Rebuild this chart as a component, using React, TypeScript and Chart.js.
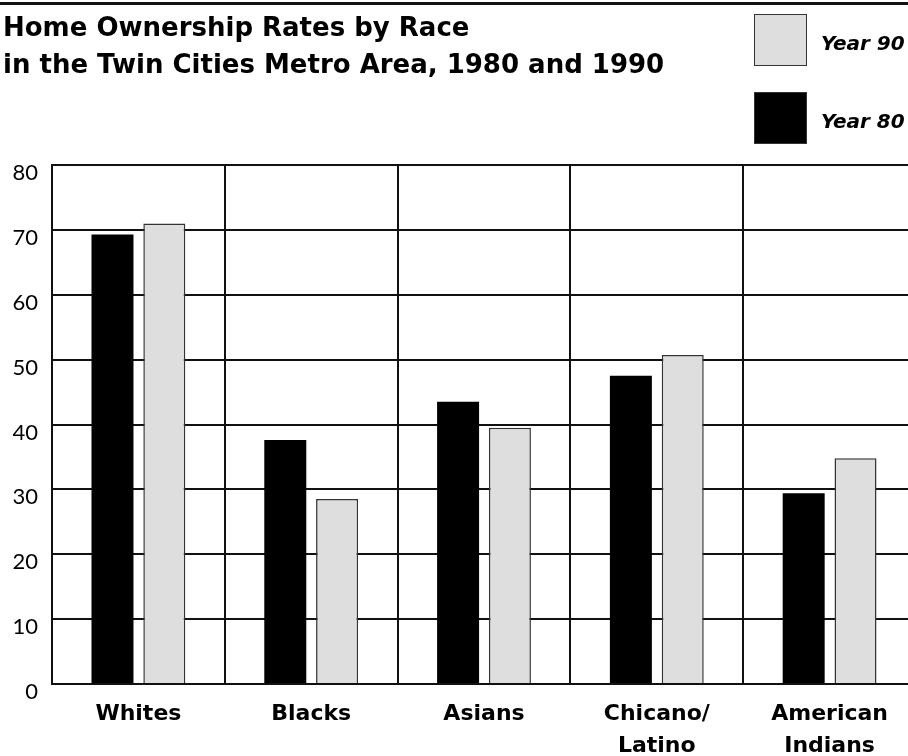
import React, { useEffect, useRef } from "react";
import { Chart, registerables } from "chart.js";

Chart.register(...registerables);

const categories: string[][] = [["Whites"], ["Blacks"], ["Asians"], ["Chicano/", "Latino"], ["American", "Indians"]];
const year80: number[] = [69.3, 37.6, 43.5, 47.5, 29.4];
const year90: number[] = [71.0, 28.5, 39.5, 50.7, 34.8];
const seriesNames: string[] = ["Year 80", "Year 90"];
const titleLines: string[] = ["Home Ownership Rates by Race", "in the Twin Cities Metro Area, 1980 and 1990"];
const yMin = 0;
const yMax = 80;
const yStep = 10;

const FONT = "Lato, 'DejaVu Sans', sans-serif";
const BOLD_FONT = "'DejaVu Sans', Lato, sans-serif";
const BLACK = "#000000";
const GREY = "#dedede";

const decor = {
  id: "decor",
  afterDraw(chart: any) {
    const ctx = chart.ctx as CanvasRenderingContext2D;
    ctx.save();
    ctx.fillStyle = "#111";
    ctx.fillRect(0, 2, chart.width, 3);
    ctx.fillStyle = "#000";
    ctx.textAlign = "left";
    ctx.textBaseline = "alphabetic";
    ctx.font = `bold 26px ${BOLD_FONT}`;
    ctx.fillText(titleLines[0], 3, 36);
    ctx.fillText(titleLines[1], 3, 73);
    // legend: reversed order (Year 90 on top)
    const ds = chart.data.datasets;
    const items = [ds[1], ds[0]];
    const tops = [14, 92];
    items.forEach((d: any, i: number) => {
      const y = tops[i];
      ctx.fillStyle = d.backgroundColor;
      ctx.fillRect(754, y, 53, 52);
      ctx.strokeStyle = "#333";
      ctx.lineWidth = 1;
      ctx.strokeRect(754.5, y + 0.5, 52, 51);
      ctx.fillStyle = "#000";
      ctx.font = `italic bold 20px ${BOLD_FONT}`;
      ctx.textBaseline = "alphabetic";
      ctx.fillText(d.label, 821, y + 36);
    });
    ctx.restore();
  },
};

export default function App() {
  const ref = useRef<HTMLCanvasElement | null>(null);
  useEffect(() => {
    if (!ref.current) return;
    const chart = new Chart(ref.current, {
      type: "bar",
      data: {
        labels: categories,
        datasets: [
          {
            label: seriesNames[0],
            data: year80,
            backgroundColor: BLACK,
            borderColor: BLACK,
            borderWidth: 0,
            categoryPercentage: 0.6,
            barPercentage: 0.81,
          },
          {
            label: seriesNames[1],
            data: year90,
            backgroundColor: GREY,
            borderColor: "#333",
            borderWidth: 1.5,
            categoryPercentage: 0.6,
            barPercentage: 0.81,
          },
        ],
      },
      options: {
        responsive: false,
        animation: false,
        layout: { padding: { top: 165, left: 0, right: 0, bottom: 0 } },
        plugins: {
          legend: { display: false },
          title: { display: false },
          tooltip: { enabled: false },
        },
        scales: {
          x: {
            grid: { display: true, offset: true, color: "#111", lineWidth: 2, drawTicks: false },
            border: { display: true, color: "#111", width: 2 },
            ticks: {
              color: "#000",
              font: { family: BOLD_FONT, size: 22, weight: "bold", lineHeight: 1.45 },
              padding: 14,
              maxRotation: 0,
              autoSkip: false,
            },
            afterFit: (s: any) => {
              s.height = 72;
            },
          },
          y: {
            min: yMin,
            max: yMax,
            grid: { color: "#111", lineWidth: 2, drawTicks: false },
            border: { display: true, color: "#111", width: 2 },
            ticks: {
              stepSize: yStep,
              color: "#000",
              font: { family: FONT, size: 22, weight: "normal" },
              padding: 14,
              labelOffset: 8,
            },
            afterFit: (s: any) => {
              s.width = 52;
            },
          },
        },
      },
      plugins: [decor],
    });
    return () => chart.destroy();
  }, []);
  return (
    <div style={{ position: "fixed", left: 0, top: 0, width: 908, height: 756, overflow: "hidden", background: "#fff" }}>
      <canvas ref={ref} width={916} height={756} style={{ display: "block" }} />
    </div>
  );
}
